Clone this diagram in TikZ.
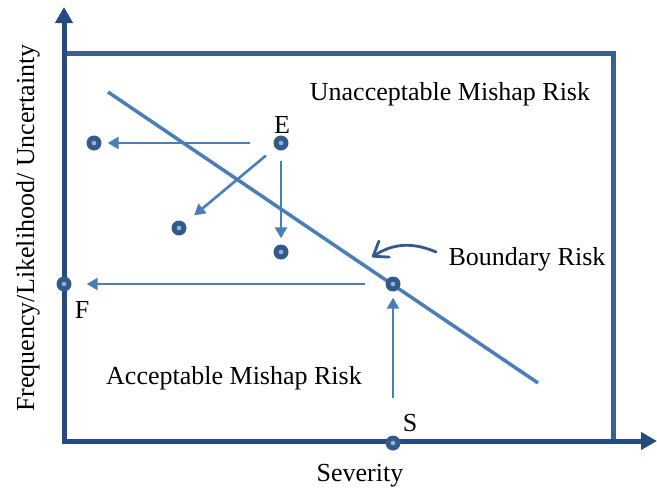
\documentclass[tikz,border=0pt]{standalone}
\usepackage{fontspec}
\setmainfont{Liberation Serif}
\usetikzlibrary{arrows.meta}
\definecolor{axisblue}{RGB}{36,74,128}
\definecolor{boxblue}{RGB}{58,96,146}
\definecolor{flowblue}{RGB}{74,126,187}
\definecolor{pointerblue}{RGB}{50,90,145}
\definecolor{ptblue}{RGB}{52,90,140}
\definecolor{ptcore}{RGB}{150,178,214}
\tikzset{
  axis/.style={draw=axisblue, line width=5pt, -{Triangle[length=16pt,width=17pt]}},
  frame/.style={draw=boxblue, line width=5pt},
  limit/.style={draw=flowblue, line width=3.5pt},
  flow/.style={draw=flowblue, line width=2.6pt, -{Triangle[length=11pt,width=12pt]}},
  pointer/.style={draw=pointerblue, line width=2.8pt, line cap=round,
    -{Straight Barb[length=13pt,width=19pt,line join=round,line cap=round]}},
  pt/.style={circle, fill=ptblue, minimum size=15pt, inner sep=0pt,
    path picture={\fill[ptcore] (path picture bounding box.center) circle (2.3pt);}},
  lbl/.style={text=black, inner sep=0pt, font=\fontsize{26}{30}\selectfont}
}
\begin{document}
\begin{tikzpicture}[x=1pt,y=-1pt]
\useasboundingbox (0,0) rectangle (657,491);
% risk frame and axes
\draw[frame] (64,53) rectangle (613,441);
\coordinate (o) at (64,443);
\coordinate (ytip) at (64,7);
\coordinate (xo) at (62,441);
\coordinate (xtip) at (657,441);
\draw[axis] (o) -- (ytip);
\draw[axis] (xo) -- (xtip);
% boundary between acceptable and unacceptable risk
\coordinate (b1) at (108,92);
\coordinate (b2) at (538,383);
\draw[limit] (b1) -- (b2);
% risk points
\node[pt] (P1) at (94,143) {};
\node[pt] (E) at (281,143) {};
\node[pt] (P3) at (179,228) {};
\node[pt] (P4) at (281,252) {};
\node[pt] (B) at (393,284) {};
\node[pt] (F) at (64,284) {};
\node[pt] (S) at (393,443) {};
% mitigation arrows
\draw[flow, shorten <=23pt, shorten >=6pt] (E) -- (P1);
\draw[flow, shorten <=12pt, shorten >=12pt] (E) -- (P3);
\draw[flow, shorten <=10pt, shorten >=6pt] (E) -- (P4);
\draw[flow, shorten <=20pt, shorten >=15pt] (B) -- (F);
\draw[flow, shorten <=37pt, shorten >=6pt] (S) -- (B);
% labels
\node[lbl] (tU) at (450,94) {Unacceptable Mishap Risk};
\node[lbl] (tE) at (282,125) {E};
\node[lbl] (tB) at (527,259) {Boundary Risk};
\node[lbl] (tF) at (82,310) {F};
\node[lbl] (tA) at (234,378) {Acceptable Mishap Risk};
\node[lbl] (tS) at (410,423) {S};
\node[lbl] (tX) at (360,476) {Severity};
\node[lbl, rotate=90] (tY) at (28,228) {Frequency/Likelihood/ Uncertainty};
% pointer from the boundary label to the line
\coordinate (c1) at (436,252);
\coordinate (c2) at (372,257);
\draw[pointer] (c1) .. controls (415,243) and (395,242) .. (c2);
\end{tikzpicture}
\end{document}
